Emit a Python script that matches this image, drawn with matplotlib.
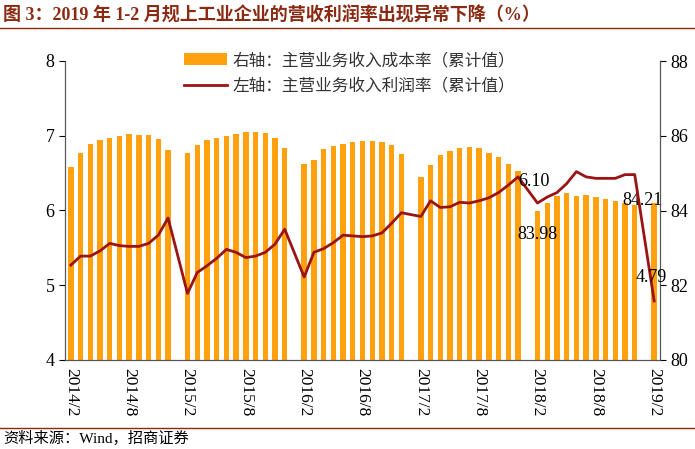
import matplotlib
matplotlib.use("Agg")
import matplotlib.pyplot as plt
from matplotlib.lines import Line2D

# months (January merged into Feb cumulative data, so no January)
years = [2014, 2015, 2016, 2017, 2018]
months = [2, 3, 4, 5, 6, 7, 8, 9, 10, 11, 12]
periods = [(y, m) for y in years for m in months] + [(2019, 2)]

cost_rate = [85.17, 85.55, 85.78, 85.88, 85.93, 85.99, 86.04, 86.02, 86.01, 85.90, 85.63,
             85.54, 85.75, 85.88, 85.94, 85.99, 86.06, 86.11, 86.10, 86.08, 85.95, 85.67,
             85.24, 85.35, 85.65, 85.72, 85.78, 85.82, 85.86, 85.86, 85.84, 85.75, 85.50,
             84.90, 85.23, 85.48, 85.60, 85.66, 85.70, 85.66, 85.54, 85.44, 85.24, 85.05,
             83.98, 84.20, 84.40, 84.48, 84.40, 84.42, 84.37, 84.30, 84.25, 84.20, 84.15,
             84.21]
profit_rate = [5.27, 5.39, 5.39, 5.46, 5.56, 5.53, 5.52, 5.52, 5.56, 5.67, 5.90,
               4.89, 5.17, 5.26, 5.36, 5.48, 5.44, 5.37, 5.39, 5.44, 5.55, 5.75,
               5.11, 5.44, 5.49, 5.57, 5.67, 5.66, 5.65, 5.66, 5.70, 5.83, 5.97,
               5.92, 6.13, 6.04, 6.05, 6.11, 6.10, 6.13, 6.17, 6.24, 6.34, 6.45,
               6.10, 6.18, 6.24, 6.36, 6.52, 6.45, 6.43, 6.43, 6.43, 6.48, 6.48,
               4.79]
tick_labels = ["2014/2", "2014/8", "2015/2", "2015/8", "2016/2", "2016/8",
               "2017/2", "2017/8", "2018/2", "2018/8", "2019/2"]

x = [(y - 2014) * 12 + (m - 2) for y, m in periods]

plt.rcParams["font.family"] = ["Liberation Serif", "Noto Sans CJK SC"]
BAR = "#FFA00F"
LINE = "#9A1414"
TITLE = "#8B2A12"

fig = plt.figure(figsize=(6.95, 4.49), dpi=100)
ax = fig.add_axes([65/695, 1-360/449, 595/695, 299/449])
ax2 = ax.twinx()
ax.set_zorder(ax2.get_zorder() + 1)
ax.patch.set_visible(False)

ax2.bar(x, cost_rate, width=0.55, color=BAR, label="右轴：主营业务收入成本率（累计值）")
ax2.set_ylim(80, 88)
ax2.set_yticks([80, 82, 84, 86, 88])
ax.plot(x, profit_rate, color=LINE, lw=2, label="左轴：主营业务收入利润率（累计值）")
ax.set_ylim(4, 8)
ax.set_yticks([4, 5, 6, 7, 8])
ax.set_xlim(-0.6, 60.6)

tpos = [(int(t.split("/")[0]) - 2014) * 12 + int(t.split("/")[1]) - 2 for t in tick_labels]
ax.set_xticks(tpos)
ax.set_xticklabels(tick_labels, rotation=270, fontsize=12.5)
ax.tick_params(axis="x", length=0, pad=6)
ax.tick_params(axis="y", labelsize=13, direction="out", length=4)
ax2.tick_params(axis="y", labelsize=13, direction="out", length=4)
for a in (ax, ax2):
    a.spines["top"].set_visible(False)
    for s in ("left", "right", "bottom"):
        a.spines[s].set_color("#555555")

i18 = periods.index((2018, 2))
i19 = periods.index((2019, 2))
ax.annotate(f"{profit_rate[i18]:.2f}", (x[i18], profit_rate[i18]), xytext=(-14, 12),
            textcoords="offset points", fontsize=13, ha="left")
ax2.annotate(f"{cost_rate[i18]:.2f}", (x[i18], cost_rate[i18]), xytext=(0, -20),
             textcoords="offset points", fontsize=13, ha="center")
ax2.annotate(f"{cost_rate[i19]:.2f}", (x[i19], cost_rate[i19]), xytext=(-8, -2),
             textcoords="offset points", fontsize=13, ha="center")
ax.annotate(f"{profit_rate[i19]:.2f}", (x[i19], profit_rate[i19]), xytext=(-2, 14),
            textcoords="offset points", fontsize=13, ha="center")

h1, l1 = ax2.get_legend_handles_labels()
h2, l2 = ax.get_legend_handles_labels()
leg = ax.legend(h1 + h2, l1 + l2, loc="upper left", bbox_to_anchor=(0.175, 1.08),
                frameon=False, handlelength=2.6, handletextpad=0.3,
                labelspacing=0.5, prop={"family": "Noto Sans CJK SC", "size": 12})
for t in leg.get_texts():
    t.set_color("#333333")

fig.text(0.005, 0.985, "图 3：2019 年 1-2 月规上工业企业的营收利润率出现异常下降（%）",
         fontsize=13, fontweight="bold", color=TITLE, va="top",
         family=["Liberation Serif", "Noto Sans CJK SC"])
fig.add_artist(Line2D([0, 1], [1-28/449, 1-28/449], color=TITLE, lw=1))
fig.add_artist(Line2D([0, 1], [1-428/449, 1-428/449], color=TITLE, lw=1))
fig.text(0.005, 1-438/449, "资料来源：Wind，招商证券", fontsize=11, va="center",
         family=["Liberation Serif", "Noto Sans CJK SC"])

fig.savefig("out.png", dpi=100)
